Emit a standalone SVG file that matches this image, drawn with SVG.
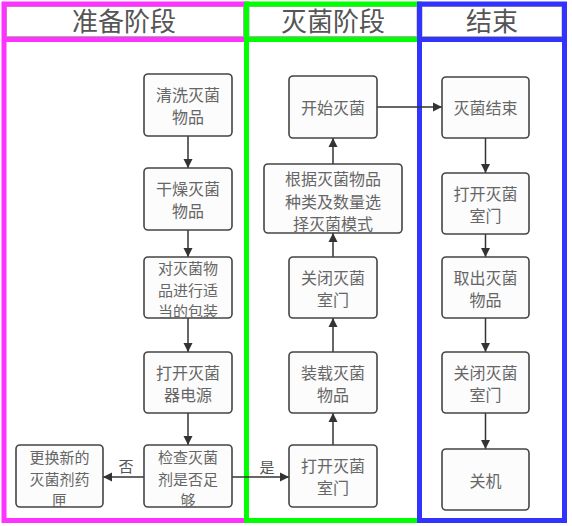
<svg xmlns="http://www.w3.org/2000/svg" width="572" height="526" viewBox="0 0 572 526">
<style>
.lane{fill:none;stroke-width:5}
.hdr{fill:none;stroke:#aaa;stroke-width:1}
.ht{font-family:"Noto Sans CJK SC","Noto Sans",sans-serif;font-size:26px;fill:#555;text-anchor:middle}
.box{fill:#fcfcfc;stroke:#444;stroke-width:1.6}
.t{font-family:"Noto Sans CJK SC","Noto Sans",sans-serif;font-size:16px;fill:#666;text-anchor:middle;dominant-baseline:central}
.t3{font-size:15px}
.lbl{font-family:"Noto Sans CJK SC","Noto Sans",sans-serif;font-size:15px;fill:#555;text-anchor:middle;dominant-baseline:central}
.c{fill:none;stroke:#333;stroke-width:1.5;marker-end:url(#ah)}
</style>
<defs>
<marker id="ah" markerUnits="userSpaceOnUse" markerWidth="10" markerHeight="10" refX="9" refY="5" orient="auto">
<path d="M0,0.5 L9,5 L0,9.5 Z" fill="#333"/>
</marker>
</defs>
<rect width="572" height="526" fill="#fff"/>
<g id="lane-prep">
<rect class="hdr" x="6.5" y="6.5" width="237" height="30"/>
<rect class="lane" x="4" y="4" width="242.5" height="516.5" stroke="#ff33ff"/>
<line x1="4" y1="39.5" x2="246.5" y2="39.5" stroke="#ff33ff" stroke-width="5"/>
<text class="ht" x="124" y="31">准备阶段</text>
</g>
<g id="lane-steril">
<rect class="hdr" x="249" y="6.5" width="168" height="30"/>
<rect class="lane" x="246.5" y="4" width="173" height="516.5" stroke="#00ff00"/>
<line x1="246.5" y1="39.5" x2="419.5" y2="39.5" stroke="#00ff00" stroke-width="5"/>
<text class="ht" x="333" y="31">灭菌阶段</text>
</g>
<g id="lane-end">
<rect class="hdr" x="422" y="6.5" width="140" height="30"/>
<rect class="lane" x="419.5" y="4" width="145" height="516.5" stroke="#3333ff"/>
<line x1="419.5" y1="39.5" x2="564.5" y2="39.5" stroke="#3333ff" stroke-width="5"/>
<text class="ht" x="492" y="31">结束</text>
</g>
<g id="connectors">
<line class="c" x1="188" y1="136" x2="188" y2="168"/>
<line class="c" x1="188" y1="230" x2="188" y2="257"/>
<line class="c" x1="188" y1="318" x2="188" y2="352"/>
<line class="c" x1="188" y1="413" x2="188" y2="445"/>
<line class="c" x1="144" y1="477" x2="103" y2="477"/>
<text class="lbl" x="126" y="465">否</text>
<line class="c" x1="232" y1="477" x2="289" y2="477"/>
<text class="lbl" x="267" y="466">是</text>
<line class="c" x1="333" y1="445" x2="333" y2="413"/>
<line class="c" x1="333" y1="352" x2="333" y2="318"/>
<line class="c" x1="333" y1="257" x2="333" y2="233"/>
<line class="c" x1="333" y1="164" x2="333" y2="138"/>
<line class="c" x1="377" y1="107" x2="442" y2="107"/>
<line class="c" x1="485.5" y1="138" x2="485.5" y2="173"/>
<line class="c" x1="485.5" y1="234" x2="485.5" y2="257"/>
<line class="c" x1="485.5" y1="318" x2="485.5" y2="352"/>
<line class="c" x1="485.5" y1="413" x2="485.5" y2="449"/>
</g>
<g id="n-clean"><rect class="box" x="144" y="74" width="88" height="62" rx="4"/><text class="t" x="188" y="94">清洗灭菌</text><text class="t" x="188" y="116">物品</text></g>
<g id="n-dry"><rect class="box" x="144" y="168" width="88" height="62" rx="4"/><text class="t" x="188" y="188">干燥灭菌</text><text class="t" x="188" y="210">物品</text></g>
<g id="n-pack"><rect class="box" x="144" y="257" width="88" height="61" rx="4"/><text class="t t3" x="188" y="267">对灭菌物</text><text class="t t3" x="188" y="289">品进行适</text><text class="t t3" x="188" y="310">当的包装</text></g>
<g id="n-power"><rect class="box" x="144" y="352" width="88" height="61" rx="4"/><text class="t" x="188" y="372">打开灭菌</text><text class="t" x="188" y="394">器电源</text></g>
<g id="n-check"><rect class="box" x="144" y="445" width="88" height="62" rx="4"/><text class="t t3" x="188" y="456">检查灭菌</text><text class="t t3" x="188" y="478">剂是否足</text><text class="t t3" x="188" y="499">够</text></g>
<g id="n-replace"><rect class="box" x="16" y="445" width="87" height="62" rx="4"/><text class="t t3" x="59.5" y="456">更换新的</text><text class="t t3" x="59.5" y="478">灭菌剂药</text><text class="t t3" x="59.5" y="499">匣</text></g>
<g id="n-start"><rect class="box" x="289" y="76" width="88" height="62" rx="4"/><text class="t" x="333" y="107">开始灭菌</text></g>
<g id="n-mode"><rect class="box" x="264" y="164" width="138" height="69" rx="4"/><text class="t" x="333" y="178">根据灭菌物品</text><text class="t" x="333" y="201">种类及数量选</text><text class="t" x="333" y="223">择灭菌模式</text></g>
<g id="n-closedoor"><rect class="box" x="289" y="257" width="88" height="61" rx="4"/><text class="t" x="333" y="277">关闭灭菌</text><text class="t" x="333" y="299">室门</text></g>
<g id="n-load"><rect class="box" x="289" y="352" width="88" height="61" rx="4"/><text class="t" x="333" y="372">装载灭菌</text><text class="t" x="333" y="394">物品</text></g>
<g id="n-opendoor"><rect class="box" x="289" y="445" width="88" height="62" rx="4"/><text class="t" x="333" y="465">打开灭菌</text><text class="t" x="333" y="487">室门</text></g>
<g id="n-end"><rect class="box" x="442" y="77" width="87" height="61" rx="4"/><text class="t" x="485.5" y="107">灭菌结束</text></g>
<g id="n-open2"><rect class="box" x="442" y="173" width="87" height="61" rx="4"/><text class="t" x="485.5" y="193">打开灭菌</text><text class="t" x="485.5" y="215">室门</text></g>
<g id="n-take"><rect class="box" x="442" y="257" width="87" height="61" rx="4"/><text class="t" x="485.5" y="277">取出灭菌</text><text class="t" x="485.5" y="299">物品</text></g>
<g id="n-close2"><rect class="box" x="442" y="352" width="87" height="61" rx="4"/><text class="t" x="485.5" y="372">关闭灭菌</text><text class="t" x="485.5" y="394">室门</text></g>
<g id="n-off"><rect class="box" x="442" y="449" width="87" height="61" rx="4"/><text class="t" x="485.5" y="479.5">关机</text></g>
</svg>
